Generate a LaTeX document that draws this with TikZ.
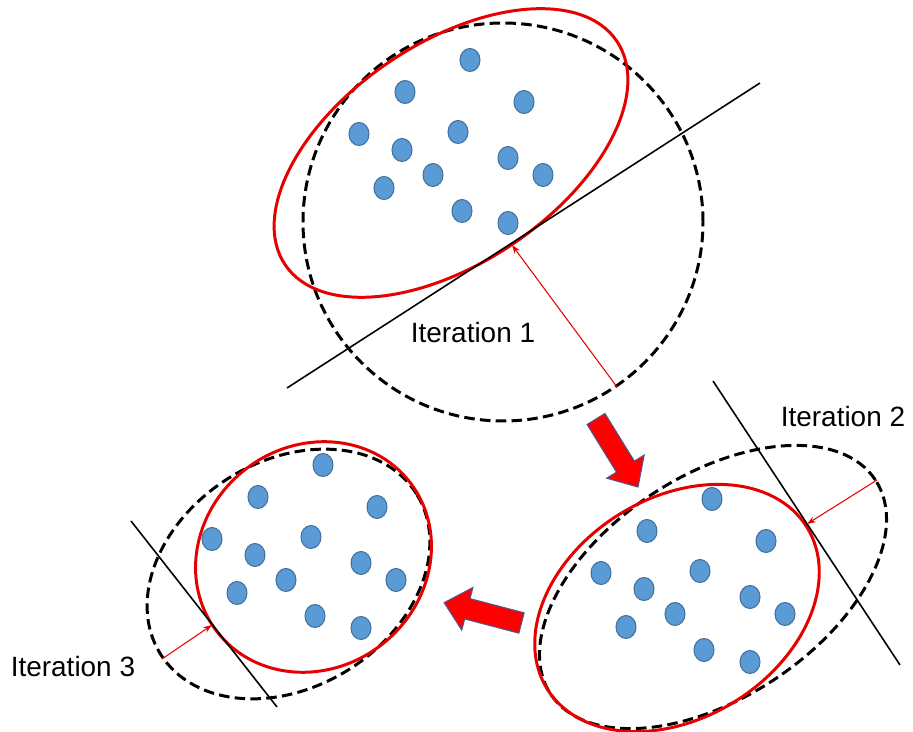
\documentclass[tikz,border=0pt]{standalone}
\usepackage{fontspec}
\setmainfont{Liberation Sans}
\usetikzlibrary{arrows.meta}
\definecolor{dotfill}{HTML}{5B9BD5}
\definecolor{dotline}{HTML}{41719C}
\definecolor{fitred}{HTML}{E60000}
\definecolor{blockred}{HTML}{FF0000}
\definecolor{blockline}{RGB}{80,86,140}
\begin{document}
\begin{tikzpicture}[x=0.02cm,y=0.02cm,
  boundary/.style={draw=black, line width=1.7pt, dash pattern=on 6pt off 3pt},
  fitcurve/.style={draw=fitred, line width=1.7pt},
  support/.style={draw=black, line width=0.9pt},
  shrink/.style={draw=fitred, line width=0.6pt, -{Stealth[length=5pt,width=3.5pt]}},
  datapoint/.style={fill=dotfill, draw=dotline, line width=0.6pt},
  blockarrow/.style={fill=blockred, draw=blockline, line width=0.6pt, line join=miter},
  label/.style={anchor=base west, inner sep=0pt, font=\fontsize{15.9}{19}\selectfont},
  cluster/.pic={
    \foreach \px/\py in {470/60, 405/92, 524/102, 359/134, 458/132, 402/150,
                         508/158, 543/175, 433/175, 384/188, 462/211, 508/223}
      \path[datapoint] (\px,-\py) ellipse [x radius=10, y radius=11.5];
  }]
\useasboundingbox (0,0) rectangle (913,-732);

% ---------- iteration 1 ----------
\draw[boundary] (503,-222) ellipse [x radius=200, y radius=199];
\draw[fitcurve, rotate around={34:(451,-153)}] (451,-153) ellipse [x radius=200, y radius=110];
\coordinate (l1a) at (287,-388);
\coordinate (l1b) at (760,-83);
\draw[support] (l1a) -- (l1b);
\coordinate (s1) at (617,-387);
\coordinate (t1) at (512,-245);
\draw[shrink] (s1) -- (t1);
\pic at (0,0) {cluster};
\node[label] (it1) at (410.5,-343) {Iteration 1};

% ---------- iteration 2 ----------
\draw[boundary, rotate around={33.4:(713,-587)}] (713,-587) ellipse [x radius=194.5, y radius=111];
\draw[fitcurve, rotate around={32:(677,-608)}] (677,-608) ellipse [x radius=153, y radius=110];
\coordinate (l2a) at (713,-381);
\coordinate (l2b) at (900,-665);
\draw[support] (l2a) -- (l2b);
\coordinate (s2) at (877,-480);
\coordinate (t2) at (807,-524);
\draw[shrink] (s2) -- (t2);
\pic at (242,-439) {cluster};
\node[label] (it2) at (780.5,-427) {Iteration 2};

% ---------- iteration 3 ----------
\draw[boundary, rotate around={32:(288.5,-574)}] (288.5,-574) ellipse [x radius=151, y radius=113];
\draw[fitcurve, rotate around={38:(313.5,-557)}] (313.5,-557) ellipse [x radius=122, y radius=111];
\coordinate (l3a) at (131,-521);
\coordinate (l3b) at (277,-707);
\draw[support] (l3a) -- (l3b);
\coordinate (s3) at (162,-659);
\coordinate (t3) at (212,-625);
\draw[shrink] (s3) -- (t3);
\pic at (-147,-405) {cluster};
\node[label] (it3) at (10.5,-677) {Iteration 3};

% ---------- block arrows between iterations ----------
\begin{scope}[shift={(596,-419)}, rotate=-58.3]
  \draw[blockarrow] (0,-10.5) -- (56,-10.5) -- (56,-22) -- (80,0) -- (56,22) -- (56,10.5) -- (0,10.5) -- cycle;
\end{scope}
\begin{scope}[shift={(521.5,-623)}, rotate=165.3]
  \draw[blockarrow] (0,-10.5) -- (56,-10.5) -- (56,-22) -- (80,0) -- (56,22) -- (56,10.5) -- (0,10.5) -- cycle;
\end{scope}
\end{tikzpicture}
\end{document}
